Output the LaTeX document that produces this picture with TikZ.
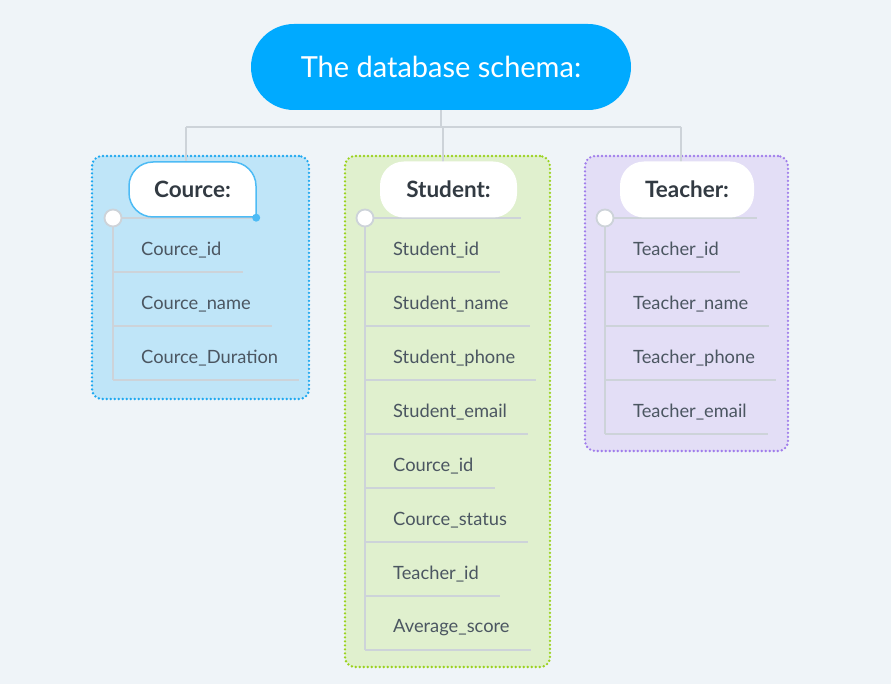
\documentclass[tikz,border=0pt]{standalone}
\usepackage{fontspec}
\setmainfont{Lato}
\usetikzlibrary{positioning}
\definecolor{bgcol}{RGB}{239,244,248}
\definecolor{titleblue}{RGB}{0,170,255}
\definecolor{rulegray}{RGB}{205,211,217}
\definecolor{itemtext}{RGB}{75,86,97}
\definecolor{hdrtext}{RGB}{50,58,66}
\definecolor{cfill}{RGB}{191,229,248}
\definecolor{cline}{RGB}{30,168,240}
\definecolor{chdr}{RGB}{77,187,245}
\definecolor{sfill}{RGB}{224,240,206}
\definecolor{sline}{RGB}{155,210,30}
\definecolor{tfill}{RGB}{227,222,246}
\definecolor{tline}{RGB}{160,125,235}

\begin{document}
\begin{tikzpicture}[
  x=1pt, y=-1pt,
  font=\fontsize{18.3}{22}\selectfont,
  rule/.style={draw=rulegray, line width=2.4pt},
  link/.style={draw=rulegray, line width=2.6pt},
  tablebox/.style={rectangle, rounded corners=10pt, line width=2.6pt, dash pattern=on 0pt off 4pt, line cap=round, inner sep=0pt},
  titlebox/.style={rectangle, rounded corners=43pt, fill=titleblue, text=white, minimum width=380pt, minimum height=86pt, font=\fontsize{29}{34}\selectfont},
  hdr/.style={rectangle, rounded corners=24pt, fill=white, text=hdrtext, minimum height=56pt, inner sep=0pt, font=\fontsize{22.5}{26}\selectfont\bfseries},
  knob/.style={circle, fill=white, draw=rulegray, line width=1.8pt, minimum size=17pt, inner sep=0pt},
  field/.style={anchor=west, inner xsep=0pt, inner ysep=0pt, minimum height=44pt, text=itemtext}
]

% background
\fill[bgcol] (0,0) rectangle (891,684);

% table frames
\node[tablebox, fill=cfill, draw=cline, minimum width=217pt, minimum height=243pt] (cbox) at (200.5,277.5) {};
\node[tablebox, fill=sfill, draw=sline, minimum width=205pt, minimum height=511pt] (sbox) at (447.5,411.5) {};
\node[tablebox, fill=tfill, draw=tline, minimum width=203pt, minimum height=295pt] (tbox) at (686.5,303.5) {};

% root
\node[titlebox] (title) at (441,67) {The database schema:};

% connectors
\coordinate (chc) at (192.5,189.5);
\coordinate (busL) at (186,127);
\coordinate (busM) at (443,127);
\coordinate (busR) at (681,127);
\draw[link] (title.south) -- (title.south |- busL);
\draw[link] (busL) -- (busR);
\draw[link] (busL) -- (busL |- chc);
\draw[link] (busM) -- (busM |- chc);
\draw[link] (busR) -- (busR |- chc);

% Cource fields
\node[field] (c1) at (141,250) {Cource\_id};
\node[field] (c2) at (141,304) {Cource\_name};
\node[field] (c3) at (141,358) {Cource\_Duration};
\node[knob] (cdot) at (113,218) {};
\draw[rule] (cdot.south) -- (cdot |- c3.south);
\draw[rule] (cdot.east) -- ([xshift=66.5pt]chc |- cdot);
\draw[rule] (c1.south -| cdot) -- ([xshift=21pt]c1.south east);
\draw[rule] (c2.south -| cdot) -- ([xshift=21pt]c2.south east);
\draw[rule] (c3.south -| cdot) -- ([xshift=21pt]c3.south east);

% Student fields
\node[field] (s1) at (393,250) {Student\_id};
\node[field] (s2) at (393,304) {Student\_name};
\node[field] (s3) at (393,358) {Student\_phone};
\node[field] (s4) at (393,412) {Student\_email};
\node[field] (s5) at (393,466) {Cource\_id};
\node[field] (s6) at (393,520) {Cource\_status};
\node[field] (s7) at (393,574) {Teacher\_id};
\node[field] (s8) at (393,628) {Average\_score};
\node[knob] (sdot) at (365,218) {};
\draw[rule] (sdot.south) -- (sdot |- s8.south);
\draw[rule] (sdot.east) -- (521,218);
\draw[rule] (s1.south -| sdot) -- ([xshift=21pt]s1.south east);
\draw[rule] (s2.south -| sdot) -- ([xshift=21pt]s2.south east);
\draw[rule] (s3.south -| sdot) -- ([xshift=21pt]s3.south east);
\draw[rule] (s4.south -| sdot) -- ([xshift=21pt]s4.south east);
\draw[rule] (s5.south -| sdot) -- ([xshift=21pt]s5.south east);
\draw[rule] (s6.south -| sdot) -- ([xshift=21pt]s6.south east);
\draw[rule] (s7.south -| sdot) -- ([xshift=21pt]s7.south east);
\draw[rule] (s8.south -| sdot) -- ([xshift=21pt]s8.south east);

% Teacher fields
\node[field] (t1) at (633,250) {Teacher\_id};
\node[field] (t2) at (633,304) {Teacher\_name};
\node[field] (t3) at (633,358) {Teacher\_phone};
\node[field] (t4) at (633,412) {Teacher\_email};
\node[knob] (tdot) at (605,218) {};
\draw[rule] (tdot.south) -- (tdot |- t4.south);
\draw[rule] (tdot.east) -- (757,218);
\draw[rule] (t1.south -| tdot) -- ([xshift=21pt]t1.south east);
\draw[rule] (t2.south -| tdot) -- ([xshift=21pt]t2.south east);
\draw[rule] (t3.south -| tdot) -- ([xshift=21pt]t3.south east);
\draw[rule] (t4.south -| tdot) -- ([xshift=21pt]t4.south east);

% headers (drawn over the rules)
\filldraw[fill=white, draw=chdr, line width=1.5pt, rounded corners=24pt]
  ([shift={(63.5,27.5)}]chc) -- ([shift={(-63.5,27.5)}]chc) -- ([shift={(-63.5,-27.5)}]chc)
  -- ([shift={(63.5,-27.5)}]chc) -- ([shift={(63.5,27.5)}]chc);
\node[hdr, fill=none, minimum width=127pt] (chead) at (chc) {Cource:};
\fill[chdr] (chead.south east) circle (4pt);
\node[hdr, minimum width=137pt] (shead) at (448.5,189.5) {Student:};
\node[hdr, minimum width=134pt] (thead) at (687,189.5) {Teacher:};

\end{tikzpicture}
\end{document}
